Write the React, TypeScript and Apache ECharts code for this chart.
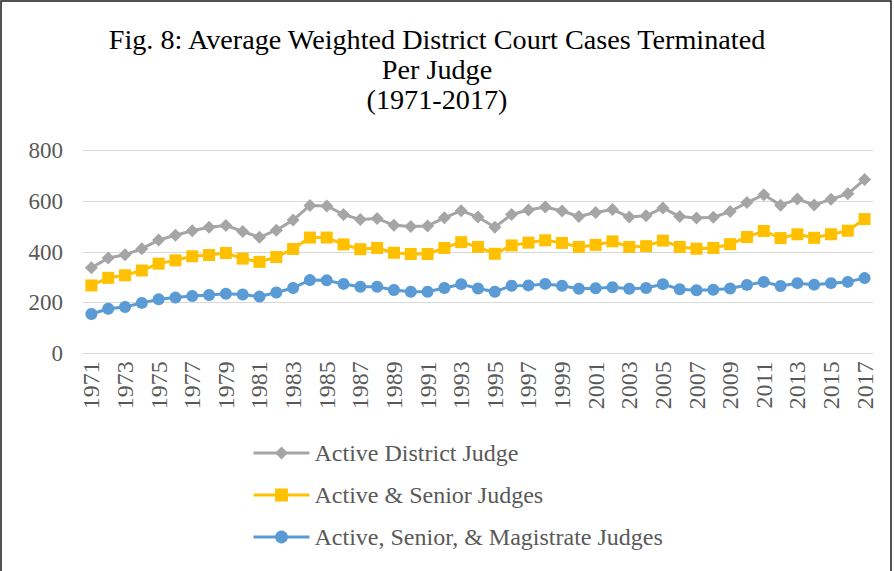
import React, { useEffect, useRef } from "react";
import * as echarts from "echarts";

const years: string[] = [
  "1971","1972","1973","1974","1975","1976","1977","1978","1979","1980",
  "1981","1982","1983","1984","1985","1986","1987","1988","1989","1990",
  "1991","1992","1993","1994","1995","1996","1997","1998","1999","2000",
  "2001","2002","2003","2004","2005","2006","2007","2008","2009","2010",
  "2011","2012","2013","2014","2015","2016","2017",
];

const activeDistrict: number[] = [
  338, 376, 389, 413, 447, 466, 484, 498, 505, 481,
  458, 486, 526, 584, 582, 548, 528, 532, 506, 501,
  503, 535, 563, 538, 498, 548, 566, 578, 562, 540,
  556, 568, 538, 543, 574, 540, 534, 537, 560, 595,
  626, 585, 609, 586, 608, 630, 686,
];

const activeSenior: number[] = [
  268, 298, 308, 327, 354, 367, 383, 388, 396, 374,
  361, 380, 412, 457, 457, 430, 411, 416, 397, 392,
  392, 416, 439, 420, 393, 426, 437, 446, 436, 420,
  428, 442, 420, 423, 445, 420, 413, 416, 431, 459,
  483, 455, 470, 456, 470, 484, 530,
];

const activeSeniorMagistrate: number[] = [
  155, 176, 183, 199, 213, 220, 226, 230, 235, 232,
  224, 240, 258, 289, 288, 274, 263, 263, 250, 243,
  243, 258, 273, 256, 243, 267, 268, 274, 267, 255,
  257, 261, 255, 258, 273, 253, 249, 251, 256, 270,
  282, 266, 277, 271, 277, 282, 297,
];

const seriesNames: string[] = [
  "Active District Judge",
  "Active & Senior Judges",
  "Active, Senior, & Magistrate Judges",
];

const titleLines: string[] = [
  "Fig. 8: Average Weighted District Court Cases Terminated",
  "Per Judge",
  "(1971-2017)",
];

const SERIF = "'Liberation Serif', 'Times New Roman', serif";

export default function App() {
  const ref = useRef<HTMLDivElement>(null);

  useEffect(() => {
    if (!ref.current) return;
    const chart = echarts.init(ref.current, null, { renderer: "svg" });
    const colors = ["#A5A5A5", "#FFC000", "#5B9BD5"];
    const symbols = ["diamond", "rect", "circle"];
    const sizes = [13, 12, 12];
    const datasets = [activeDistrict, activeSenior, activeSeniorMagistrate];

    chart.setOption({
      animation: false,
      backgroundColor: "#ffffff",
      graphic: [
        {
          type: "rect",
          shape: { x: 1, y: 1, width: 890, height: 620 },
          style: { fill: "none", stroke: "#1a1a1a", lineWidth: 1.5 },
          silent: true,
        },
        {
          type: "text",
          x: 437,
          y: 24,
          style: {
            text: titleLines.join("\n"),
            fontFamily: SERIF,
            fontSize: 28.2,
            lineHeight: 30,
            fill: "#000000",
            align: "center",
            verticalAlign: "top",
          },
        },
      ],
      legend: {
        orient: "vertical",
        left: 252,
        top: 441,
        padding: 0,
        itemWidth: 56,
        itemHeight: 16,
        itemGap: 18,
        data: seriesNames,
        lineStyle: { width: 3 },
        textStyle: {
          fontFamily: SERIF,
          fontSize: 24,
          lineHeight: 24,
          color: "#595959",
        },
      },
      grid: { left: 83, top: 150.7, width: 790, height: 202.6 },
      xAxis: {
        type: "category",
        data: years,
        boundaryGap: true,
        axisLine: { show: true, lineStyle: { color: "#d9d9d9", width: 1 } },
        axisTick: { show: false },
        axisLabel: {
          rotate: 90,
          interval: 1,
          margin: 8,
          fontFamily: SERIF,
          fontSize: 24,
          color: "#595959",
        },
      },
      yAxis: {
        type: "value",
        min: 0,
        max: 800,
        interval: 200,
        axisLine: { show: false },
        axisTick: { show: false },
        splitLine: { lineStyle: { color: "#d9d9d9", width: 1 } },
        axisLabel: {
          margin: 20,
          fontFamily: SERIF,
          fontSize: 23,
          color: "#595959",
        },
      },
      series: seriesNames.map((name, i) => ({
        name,
        type: "line",
        data: datasets[i],
        symbol: symbols[i],
        symbolSize: sizes[i],
        showSymbol: true,
        showAllSymbol: true,
        lineStyle: { color: colors[i], width: 3 },
        itemStyle: { color: colors[i] },
      })),
    });

    return () => {
      chart.dispose();
    };
  }, []);

  return (
    <div
      ref={ref}
      style={{
        position: "absolute",
        left: 0,
        top: 0,
        width: 894,
        height: 571,
        background: "#ffffff",
      }}
    />
  );
}
